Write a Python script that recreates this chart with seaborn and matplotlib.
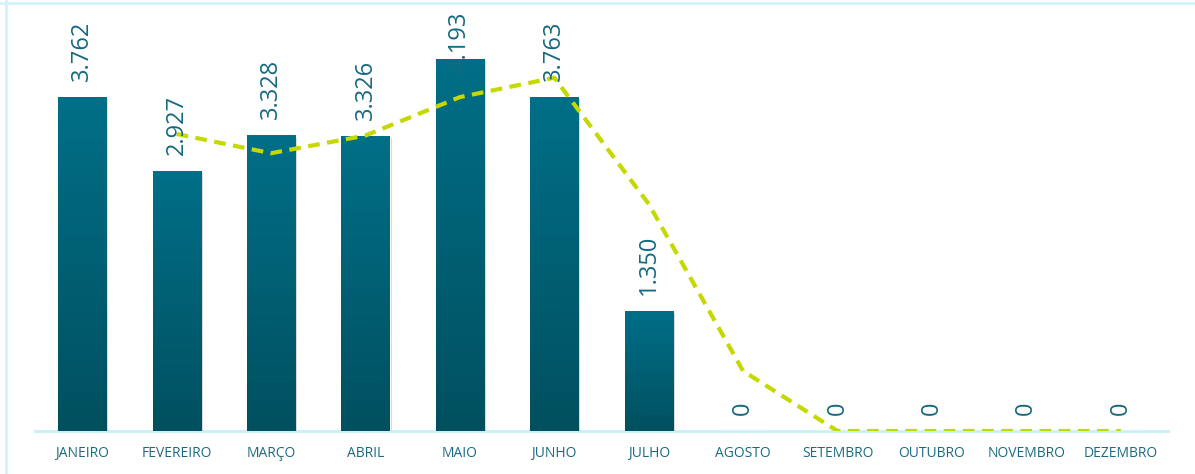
import matplotlib
matplotlib.use("Agg")
import matplotlib.pyplot as plt
import matplotlib.patheffects as pe
from matplotlib.lines import Line2D
import seaborn as sns
import numpy as np
import pandas as pd

# dados
meses = ["JANEIRO", "FEVEREIRO", "MARÇO", "ABRIL", "MAIO", "JUNHO",
         "JULHO", "AGOSTO", "SETEMBRO", "OUTUBRO", "NOVEMBRO", "DEZEMBRO"]
valores = [3762, 2927, 3328, 3326, 4193, 3763, 1350, 0, 0, 0, 0, 0]
rotulos = ["3.762", "2.927", "3.328", "3.326", "4.193", "3.763", "1.350",
           "0", "0", "0", "0", "0"]
# media movel (linha tracejada)
media = [np.nan, 3344.5, 3127.5, 3327, 3759.5, 3978, 2556.5, 675, 0, 0, 0, 0]

df = pd.DataFrame({"mes": meses, "valor": valores, "media": media})

sns.set_style("white")
plt.rcParams["font.family"] = ["Open Sans", "DejaVu Sans"]

fig = plt.figure(figsize=(11.95, 4.74), dpi=100)
ax = fig.add_axes([35 / 1195, 43 / 474, 1133 / 1195, 431 / 474])

sns.barplot(data=df, x="mes", y="valor", color="#006e87", width=0.51,
            saturation=1, ax=ax, zorder=2)

ax.set_xlim(-0.5, 11.5)
ax.set_ylim(0, 4853)

# gradiente nas barras
grad = np.linspace(0, 1, 256).reshape(-1, 1)
cmap = matplotlib.colors.LinearSegmentedColormap.from_list("g", ["#01505f", "#006f88"])
for p in ax.patches:
    x0, y0 = p.get_x(), p.get_y()
    w, h = p.get_width(), p.get_height()
    if h <= 0:
        continue
    p.set_path_effects([pe.SimplePatchShadow(offset=(1.5, -1.5), alpha=0.18, shadow_rgbFace="#000000"),
                        pe.Normal()])
    im = ax.imshow(grad, extent=[x0, x0 + w, y0, y0 + h], origin="lower",
                   aspect="auto", cmap=cmap, zorder=3)
    im.set_clip_path(p)

sns.lineplot(data=df, x="mes", y="media", color="#c5d800", lw=3,
             linestyle=(0, (2.8, 1.8)), ax=ax, zorder=4, sort=False)

# rotulos de valor
for i, (v, r) in enumerate(zip(valores, rotulos)):
    yb = min(v + 180, 4040)
    ax.text(i, yb, r, rotation=90, ha="center", va="bottom", fontsize=17,
            color="#16697f", zorder=5, clip_on=False)

ax.set_xlabel("")
ax.set_ylabel("")
ax.set_yticks([])
ax.tick_params(axis="x", length=0, pad=11, labelsize=10, labelcolor="#1b6b7e")
for s in ["top", "right", "left"]:
    ax.spines[s].set_visible(False)
ax.spines["bottom"].set_color("#c9eff9")
ax.spines["bottom"].set_linewidth(2)
ax.spines["bottom"].set_zorder(1)

# moldura
fig.add_artist(Line2D([0, 1], [1 - 2.5 / 474] * 2, color="#d3f3fb", lw=2))
fig.add_artist(Line2D([6 / 1195] * 2, [0, 1], color="#d3f3fb", lw=2))

fig.savefig("out.png", dpi=100)
